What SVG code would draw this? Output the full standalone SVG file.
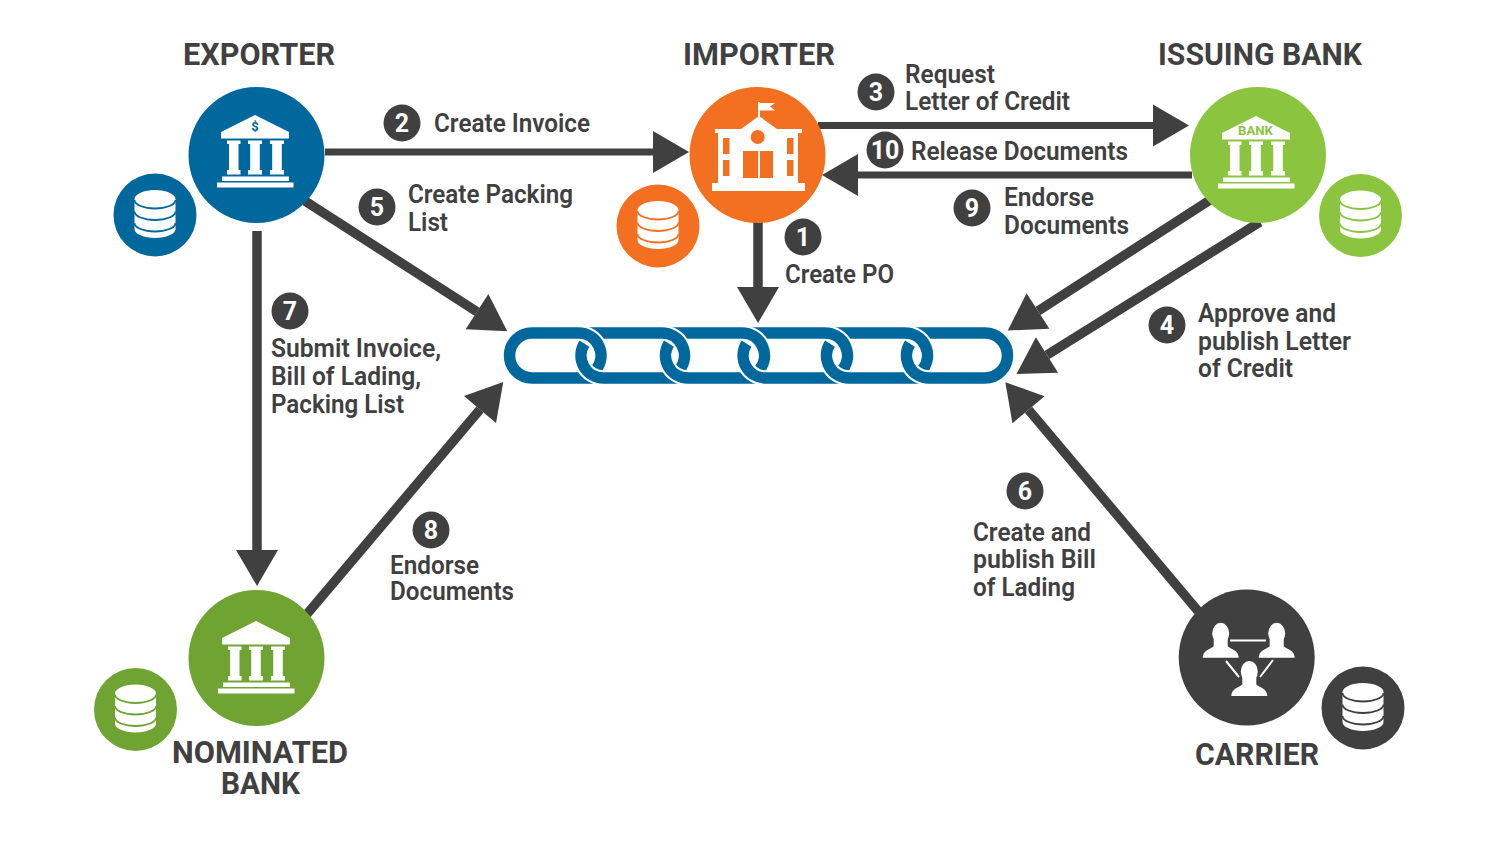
<svg xmlns="http://www.w3.org/2000/svg" width="1500" height="844" viewBox="0 0 1500 844">
<style>
text{font-family:Roboto,"Open Sans","Liberation Sans",sans-serif;fill:#404040}
.t{font-size:31px;font-weight:700}
.l{font-size:25px;font-weight:600}
.n{font-size:25px;font-weight:700;fill:#fff;text-anchor:middle}
.c{stroke:#404040;stroke-width:9.500;fill:none;marker-end:url(#ah)}
.h{stroke-width:6.800}
.chain{fill:none;stroke:#00689d;stroke-width:11.500}
.halo{fill:none;stroke:#fff;stroke-width:15.500}
.blue{fill:#00689d;color:#00689d}
.orange{fill:#f37021;color:#f37021}
.lime{fill:#8bc53f;color:#8bc53f}
.green{fill:#70a432;color:#70a432}
.dark{fill:#404040;color:#404040}
.w{fill:#fff}
</style>
<defs>
<marker id="ah" markerUnits="userSpaceOnUse" markerWidth="40" markerHeight="44" refX="0" refY="22" orient="auto" viewBox="0 0 40 44" overflow="visible"><path d="M0,1L36,22L0,43Z" fill="#404040"/></marker>
<g id="db">
<path d="M-20.500,-16A20.500,9 0 0 1 20.500,-16V14A20.500,9 0 0 1 -20.500,14Z" fill="#fff"/>
<path d="M-20.500,-15A20.500,8.500 0 0 0 20.500,-15M-20.500,-3.500A20.500,8.500 0 0 0 20.500,-3.500M-20.500,8A20.500,8.500 0 0 0 20.500,8" fill="none" stroke="currentColor" stroke-width="1.800"/>
</g>
<g id="bank" fill="#fff">
<path d="M255,115L289,132V138.500H221V132Z"/>
<path d="M227,140.500H240.500V144H238.500V170H240.500V174.500H227V170H229V144H227Z"/>
<path d="M248,140.500H262V144H259.800V170H262V174.500H248V170H250.200V144H248Z"/>
<path d="M270,140.500H284V144H281.800V170H284V174.500H270V170H272.200V144H270Z"/>
<rect x="222" y="176.500" width="67" height="4.500"/>
<rect x="217" y="182.500" width="76.500" height="5"/>
</g>
<g id="person" fill="#fff">
<ellipse cx="0" cy="0" rx="8.500" ry="10.500"/>
<path d="M-18,24.500C-18,17 -10,16 -7,13V5H7V13C10,16 18,17 18,24.500Z"/>
</g>
</defs>
<rect width="1500" height="844" fill="#fff"/>

<g id="connectors">
<line class="c h" x1="325" y1="152" x2="653" y2="152"/>
<line class="c h" x1="818" y1="125.500" x2="1153" y2="125.500"/>
<line class="c h" x1="1192" y1="175" x2="858" y2="175"/>
<line class="c" x1="758" y1="222" x2="758" y2="287"/>
<line class="c" x1="305" y1="201" x2="477" y2="311.700"/>
<line class="c" x1="257" y1="231" x2="257" y2="550"/>
<line class="c" x1="307" y1="614" x2="480" y2="409.500"/>
<line class="c" x1="1198" y1="611" x2="1028.500" y2="409.700"/>
<line class="c" x1="1210" y1="200" x2="1038" y2="311"/>
<line class="c" x1="1260" y1="222" x2="1047" y2="355"/>
</g>

<g id="chain" transform="translate(0,-0.500)">
<path class="chain" d="M911,333.500H985A22.500,22.500 0 0 1 985,378.500"/>
<path class="halo" d="M831,333.500H905A22.500,22.500 0 0 1 922.700,369.900"/><path class="chain" d="M831,333.500H905A22.500,22.500 0 0 1 922.700,369.900"/>
<path class="halo" d="M750,333.500H825A22.500,22.500 0 0 1 842.700,369.900"/><path class="chain" d="M750,333.500H825A22.500,22.500 0 0 1 842.700,369.900"/>
<path class="halo" d="M670,333.500H742A22.500,22.500 0 0 1 759.700,369.900"/><path class="chain" d="M670,333.500H742A22.500,22.500 0 0 1 759.700,369.900"/>
<path class="halo" d="M588.500,333.500H662A22.500,22.500 0 0 1 679.700,369.900"/><path class="chain" d="M588.500,333.500H662A22.500,22.500 0 0 1 679.700,369.900"/>
<path class="halo" d="M532,333.500H578.500A22.500,22.500 0 0 1 596.200,369.900"/><path class="chain" d="M532,333.500H578.500A22.500,22.500 0 0 1 596.200,369.900"/>
<path class="chain" d="M593.500,378.500H532A22.500,22.500 0 0 1 532,333.500"/>
<path class="halo" d="M678,378.500H603.500A22.500,22.500 0 0 1 584.400,344.100"/><path class="chain" d="M678,378.500H603.500A22.500,22.500 0 0 1 584.400,344.100"/>
<path class="halo" d="M755.600,378.500H688A22.500,22.500 0 0 1 668.900,344.100"/><path class="chain" d="M755.600,378.500H688A22.500,22.500 0 0 1 668.900,344.100"/>
<path class="halo" d="M839,378.500H765.600A22.500,22.500 0 0 1 746.500,344.100"/><path class="chain" d="M839,378.500H765.600A22.500,22.500 0 0 1 746.500,344.100"/>
<path class="halo" d="M919,378.500H849A22.500,22.500 0 0 1 829.900,344.100"/><path class="chain" d="M919,378.500H849A22.500,22.500 0 0 1 829.900,344.100"/>
<path class="halo" d="M985,378.500H929A22.500,22.500 0 0 1 909.900,344.100"/><path class="chain" d="M985,378.500H929A22.500,22.500 0 0 1 909.900,344.100"/>
</g>

<g id="exporter">
<circle class="blue" cx="256.500" cy="155" r="68"/>
<use href="#bank"/>
<text x="255" y="131" font-size="13" font-weight="700" text-anchor="middle" style="fill:#00689d">$</text>
<g class="blue" transform="translate(155,215)"><circle r="41.500"/><use href="#db"/></g>
<text class="t" x="183" y="65" textLength="152" lengthAdjust="spacingAndGlyphs">EXPORTER</text>
</g>

<g id="importer">
<circle class="orange" cx="757.500" cy="155" r="68"/>
<path class="w" d="M758,102H760V117.500H758ZM760,103H775L770,106.500L775,110.500H760ZM759,116L777,129H802V133H798V183H805V191H712V183H718V133H715V129H741Z"/>
<g class="orange"><circle cx="757.700" cy="137" r="7"/>
<rect x="723" y="138" width="6.500" height="16"/><rect x="723" y="160" width="6.500" height="16"/>
<rect x="787" y="138" width="6.500" height="16"/><rect x="787" y="160" width="6.500" height="16"/>
<rect x="743" y="151" width="15" height="27"/><rect x="760" y="151" width="13" height="27"/></g>
<g class="orange" transform="translate(658,226)"><circle r="41.500"/><use href="#db"/></g>
<text class="t" x="683" y="65" textLength="152" lengthAdjust="spacingAndGlyphs">IMPORTER</text>
</g>

<g id="issuing-bank">
<circle class="lime" cx="1258" cy="155" r="68"/>
<use href="#bank" transform="translate(1001,1)"/>
<text x="1238" y="135" font-size="12.500" font-weight="700" textLength="35" lengthAdjust="spacingAndGlyphs" style="fill:#8bc53f">BANK</text>
<g class="lime" transform="translate(1360.500,215.500)"><circle r="41.500"/><use href="#db"/></g>
<text class="t" x="1158" y="65" textLength="204" lengthAdjust="spacingAndGlyphs">ISSUING BANK</text>
</g>

<g id="nominated-bank">
<circle class="green" cx="256.500" cy="658" r="68"/>
<use href="#bank" transform="translate(1,506)"/>
<g class="green" transform="translate(135.500,709.500)"><circle r="41.500"/><use href="#db"/></g>
<text class="t" x="172" y="763" textLength="176" lengthAdjust="spacingAndGlyphs">NOMINATED</text>
<text class="t" x="221" y="794" textLength="79" lengthAdjust="spacingAndGlyphs">BANK</text>
</g>

<g id="carrier">
<circle class="dark" cx="1246.700" cy="657.500" r="68"/>
<use href="#person" x="1220.700" y="633.300"/>
<use href="#person" x="1276.700" y="633.300"/>
<use href="#person" x="1249.300" y="671.500"/>
<path d="M1230,640.500H1266M1226,661L1239,677M1273,660L1260,677" stroke="#fff" stroke-width="2" fill="none"/>
<g class="dark" transform="translate(1363,708)"><circle r="41.500"/><use href="#db"/></g>
<text class="t" x="1195" y="765" textLength="124" lengthAdjust="spacingAndGlyphs">CARRIER</text>
</g>

<g id="step-1"><circle class="dark" cx="803" cy="237" r="18.500"/><text class="n" x="803" y="246">1</text>
<text class="l" x="785" y="283" textLength="109" lengthAdjust="spacingAndGlyphs">Create PO</text></g>
<g id="step-2"><circle class="dark" cx="402" cy="123" r="18.500"/><text class="n" x="402" y="132">2</text>
<text class="l" x="434" y="132" textLength="156" lengthAdjust="spacingAndGlyphs">Create Invoice</text></g>
<g id="step-3"><circle class="dark" cx="876" cy="92" r="18.500"/><text class="n" x="876" y="101">3</text>
<text class="l" x="905" y="83" textLength="90" lengthAdjust="spacingAndGlyphs">Request</text>
<text class="l" x="905" y="110" textLength="165" lengthAdjust="spacingAndGlyphs">Letter of Credit</text></g>
<g id="step-4"><circle class="dark" cx="1167" cy="325" r="18.500"/><text class="n" x="1167" y="334">4</text>
<text class="l" x="1198" y="322" textLength="138" lengthAdjust="spacingAndGlyphs">Approve and</text>
<text class="l" x="1198" y="350" textLength="153" lengthAdjust="spacingAndGlyphs">publish Letter</text>
<text class="l" x="1198" y="377" textLength="95" lengthAdjust="spacingAndGlyphs">of Credit</text></g>
<g id="step-5"><circle class="dark" cx="377" cy="207" r="18.500"/><text class="n" x="377" y="216">5</text>
<text class="l" x="408" y="203" textLength="165" lengthAdjust="spacingAndGlyphs">Create Packing</text>
<text class="l" x="408" y="231" textLength="40" lengthAdjust="spacingAndGlyphs">List</text></g>
<g id="step-6"><circle class="dark" cx="1025" cy="491" r="18.500"/><text class="n" x="1025" y="500">6</text>
<text class="l" x="973" y="541" textLength="118" lengthAdjust="spacingAndGlyphs">Create and</text>
<text class="l" x="973" y="568" textLength="123" lengthAdjust="spacingAndGlyphs">publish Bill</text>
<text class="l" x="973" y="596" textLength="102" lengthAdjust="spacingAndGlyphs">of Lading</text></g>
<g id="step-7"><circle class="dark" cx="290" cy="311" r="18.500"/><text class="n" x="290" y="320">7</text>
<text class="l" x="271" y="357" textLength="170" lengthAdjust="spacingAndGlyphs">Submit Invoice,</text>
<text class="l" x="271" y="385" textLength="150" lengthAdjust="spacingAndGlyphs">Bill of Lading,</text>
<text class="l" x="271" y="413" textLength="133" lengthAdjust="spacingAndGlyphs">Packing List</text></g>
<g id="step-8"><circle class="dark" cx="431" cy="530" r="18.500"/><text class="n" x="431" y="539">8</text>
<text class="l" x="390" y="574" textLength="89" lengthAdjust="spacingAndGlyphs">Endorse</text>
<text class="l" x="390" y="600" textLength="124" lengthAdjust="spacingAndGlyphs">Documents</text></g>
<g id="step-9"><circle class="dark" cx="972" cy="208" r="18.500"/><text class="n" x="972" y="217">9</text>
<text class="l" x="1004" y="206" textLength="90" lengthAdjust="spacingAndGlyphs">Endorse</text>
<text class="l" x="1004" y="234" textLength="125" lengthAdjust="spacingAndGlyphs">Documents</text></g>
<g id="step-10"><circle class="dark" cx="885" cy="150" r="18.500"/><text class="n" x="885" y="159">10</text>
<text class="l" x="911" y="160" textLength="217" lengthAdjust="spacingAndGlyphs">Release Documents</text></g>
</svg>
